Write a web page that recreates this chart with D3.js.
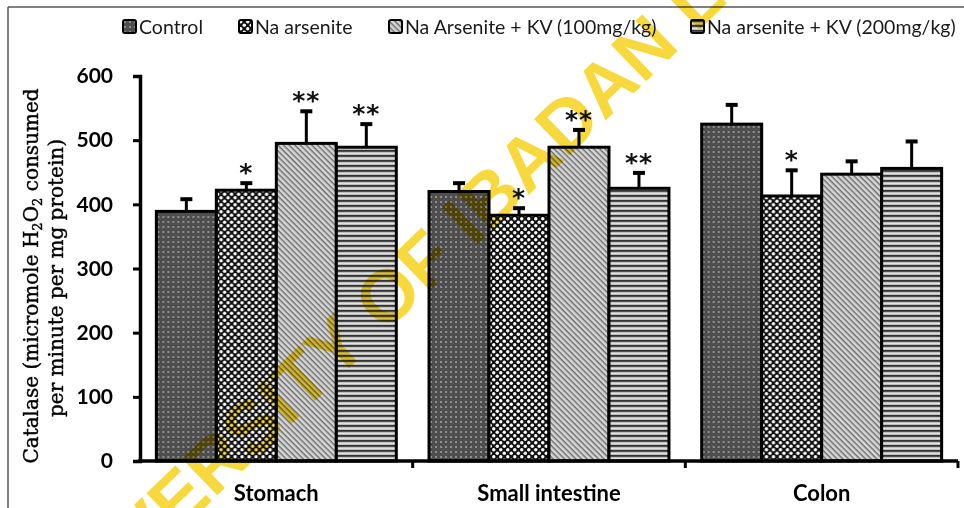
<!DOCTYPE html>
<html>
<head>
<meta charset="utf-8">
<script src="https://cdn.jsdelivr.net/npm/d3@7"></script>
<style>
  body { margin: 0; background: #fff; }
  svg { display: block; }
</style>
</head>
<body>
<svg id="chart" width="964" height="508"></svg>
<script>
// Data
const categories = ["Stomach", "Small intestine", "Colon"];
const series = ["Control", "Na arsenite", "Na Arsenite + KV (100mg/kg)", "Na arsenite + KV (200mg/kg)"];
const means = [
    [389, 422, 495, 489],
    [420, 383, 489, 425],
    [525, 413, 447, 456]
];
const errors = [
    [19, 11, 50, 36],
    [13, 11, 27, 24],
    [30, 40, 20, 42]
];
const stars = [
    ["", "*", "**", "**"],
    ["", "*", "**", "**"],
    ["", "*", "", ""]
];
const yTicks = [0, 100, 200, 300, 400, 500, 600];

const svg = d3.select("#chart");
const width = 964;
const height = 508;
const margin = { top: 76, right: 6, bottom: 47, left: 140 };

// Patterns for the four groups
const defs = svg.append("defs");
const patternIds = ["pControl", "pArsenite", "pKv100", "pKv200"];

let p = defs.append("pattern").attr("id", "pControl").attr("patternUnits", "userSpaceOnUse")
    .attr("width", 5).attr("height", 5);
p.append("rect").attr("width", 5).attr("height", 5).attr("fill", "#4e4e4e");
p.append("rect").attr("x", 1).attr("y", 1).attr("width", 2).attr("height", 2).attr("fill", "#8e8e8e");

p = defs.append("pattern").attr("id", "pArsenite").attr("patternUnits", "userSpaceOnUse")
    .attr("width", 7).attr("height", 7);
p.append("rect").attr("width", 7).attr("height", 7).attr("fill", "#111");
p.append("circle").attr("cx", 1.75).attr("cy", 1.75).attr("r", 1.7).attr("fill", "#fff");
p.append("circle").attr("cx", 5.25).attr("cy", 5.25).attr("r", 1.7).attr("fill", "#fff");

p = defs.append("pattern").attr("id", "pKv100").attr("patternUnits", "userSpaceOnUse")
    .attr("width", 4).attr("height", 4).attr("patternTransform", "rotate(45)");
p.append("rect").attr("width", 4).attr("height", 4).attr("fill", "#d6d6d6");
p.append("rect").attr("width", 4).attr("height", 1.4).attr("fill", "#6a6a6a");

p = defs.append("pattern").attr("id", "pKv200").attr("patternUnits", "userSpaceOnUse")
    .attr("width", 6).attr("height", 5);
p.append("rect").attr("width", 6).attr("height", 5).attr("fill", "#bdbdbd");
p.append("rect").attr("width", 6).attr("height", 1.8).attr("fill", "#333");
p.append("rect").attr("y", 3).attr("width", 6).attr("height", 0.8).attr("fill", "#ececec");

// Frame lines (page border)
svg.append("line").attr("x1", 8).attr("y1", 7).attr("x2", width).attr("y2", 7)
    .attr("stroke", "#555").attr("stroke-width", 1.5);
svg.append("line").attr("x1", 8).attr("y1", 7).attr("x2", 8).attr("y2", height)
    .attr("stroke", "#555").attr("stroke-width", 1.5);

// Scales
const x0 = d3.scaleBand()
    .domain(categories)
    .range([margin.left, width - margin.right])
    .paddingInner(0.12)
    .paddingOuter(0.06);
const x1 = d3.scaleBand()
    .domain(series)
    .range([0, x0.bandwidth()]);
const y = d3.scaleLinear()
    .domain([0, 600])
    .range([height - margin.bottom, margin.top]);

// Bars
const groups = svg.selectAll("g.cat")
    .data(categories)
    .enter()
    .append("g")
    .attr("class", "cat")
    .attr("transform", d => `translate(${x0(d)},0)`);

groups.each(function(cat, ci) {
    const g = d3.select(this);
    const rows = series.map((s, si) => ({ s, si, v: means[ci][si], e: errors[ci][si], star: stars[ci][si] }));
    const mid = d => x1(d.s) + x1.bandwidth() / 2;

    // error bars first so the bar outline covers the stem base
    g.selectAll("line.err")
        .data(rows)
        .enter()
        .append("line")
        .attr("x1", mid).attr("x2", mid)
        .attr("y1", d => y(d.v))
        .attr("y2", d => y(d.v + d.e))
        .attr("stroke", "#000")
        .attr("stroke-width", 3);
    g.selectAll("line.cap")
        .data(rows)
        .enter()
        .append("line")
        .attr("x1", d => mid(d) - 6)
        .attr("x2", d => mid(d) + 6)
        .attr("y1", d => y(d.v + d.e))
        .attr("y2", d => y(d.v + d.e))
        .attr("stroke", "#000")
        .attr("stroke-width", 4);

    g.selectAll("rect.bar")
        .data(rows)
        .enter()
        .append("rect")
        .attr("class", "bar")
        .attr("x", d => x1(d.s))
        .attr("y", d => y(d.v))
        .attr("width", x1.bandwidth())
        .attr("height", d => y(0) - y(d.v))
        .attr("fill", d => `url(#${patternIds[d.si]})`)
        .attr("stroke", "#000")
        .attr("stroke-width", 3);

    g.selectAll("text.star")
        .data(rows.filter(d => d.star))
        .enter()
        .append("text")
        .attr("x", mid)
        .attr("y", d => y(d.v + d.e) - 2)
        .attr("text-anchor", "middle")
        .attr("font-family", "'DejaVu Sans', sans-serif")
        .attr("font-weight", "bold")
        .attr("font-size", 25)
        .attr("fill", "#111")
        .attr("letter-spacing", 1)
        .text(d => d.star);
});

// Y axis
const yAxis = svg.append("g")
    .attr("transform", `translate(${margin.left},0)`)
    .call(d3.axisLeft(y).tickValues(yTicks).tickSize(7).tickPadding(20));
yAxis.select(".domain").attr("stroke", "#000").attr("stroke-width", 3.5);
yAxis.selectAll(".tick line").attr("stroke", "#000").attr("stroke-width", 3);
yAxis.selectAll(".tick text")
    .attr("font-family", "Lato, sans-serif")
    .attr("font-weight", "bold")
    .attr("font-size", 21)
    .attr("fill", "#000");

// X axis
const xAxisY = y(0);
svg.append("line")
    .attr("x1", margin.left - 2).attr("x2", width - margin.right)
    .attr("y1", xAxisY).attr("y2", xAxisY)
    .attr("stroke", "#000").attr("stroke-width", 3.5);
const boundaries = categories.map(c => x0(c) + x0.bandwidth() + x0.step() * x0.paddingInner() / 2);
svg.selectAll("line.xtick")
    .data(boundaries)
    .enter()
    .append("line")
    .attr("x1", d => d).attr("x2", d => d)
    .attr("y1", xAxisY).attr("y2", xAxisY + 7)
    .attr("stroke", "#000").attr("stroke-width", 3);
svg.selectAll("text.xlabel")
    .data(categories)
    .enter()
    .append("text")
    .attr("x", d => x0(d) + x0.bandwidth() / 2)
    .attr("y", 501)
    .attr("text-anchor", "middle")
    .attr("font-family", "Lato, sans-serif")
    .attr("font-weight", "bold")
    .attr("font-size", 22)
    .attr("fill", "#000")
    .text(d => d);

// Y axis title (two lines, with subscripts)
const title = svg.append("text")
    .attr("transform", "translate(38,276) rotate(-90)")
    .attr("text-anchor", "middle")
    .attr("font-family", "'DejaVu Serif', serif")
    .attr("font-size", 20)
    .attr("fill", "#000")
    .attr("stroke", "#000")
    .attr("stroke-width", 0.4);
title.append("tspan").text("Catalase (micromole H");
title.append("tspan").attr("font-size", 13).attr("dy", 4).text("2");
title.append("tspan").attr("dy", -4).text("O");
title.append("tspan").attr("font-size", 13).attr("dy", 4).text("2");
title.append("tspan").attr("dy", -4).text(" consumed");
svg.append("text")
    .attr("transform", "translate(63,278) rotate(-90)")
    .attr("text-anchor", "middle")
    .attr("font-family", "'DejaVu Serif', serif")
    .attr("font-size", 20)
    .attr("fill", "#000")
    .attr("stroke", "#000")
    .attr("stroke-width", 0.4)
    .text("per minute per mg protein)");

// Legend
const legendX = [123, 239, 389, 691];
const legend = svg.selectAll("g.legend")
    .data(series)
    .enter()
    .append("g")
    .attr("class", "legend")
    .attr("transform", (d, i) => `translate(${legendX[i]},20)`);
legend.append("rect")
    .attr("width", 13).attr("height", 13).attr("rx", 2)
    .attr("fill", (d, i) => `url(#${patternIds[i]})`)
    .attr("stroke", "#000").attr("stroke-width", 2);
legend.append("text")
    .attr("x", 16).attr("y", 13.5)
    .attr("font-family", "Lato, sans-serif")
    .attr("font-size", 19.5)
    .attr("fill", "#1a1a1a")
    .text(d => d);

// Watermark, running diagonally across the plot
svg.append("text")
    .attr("transform", "translate(33,638) rotate(-44)")
    .attr("dominant-baseline", "central")
    .attr("font-family", "'Liberation Sans', sans-serif")
    .attr("font-weight", "bold")
    .attr("font-size", 74)
    .attr("textLength", 1224)
    .attr("lengthAdjust", "spacing")
    .attr("fill", "#f6d21a")
    .attr("opacity", 0.85)
    .style("mix-blend-mode", "multiply")
    .text("UNIVERSITY OF IBADAN LIBRARY");
</script>
</body>
</html>
